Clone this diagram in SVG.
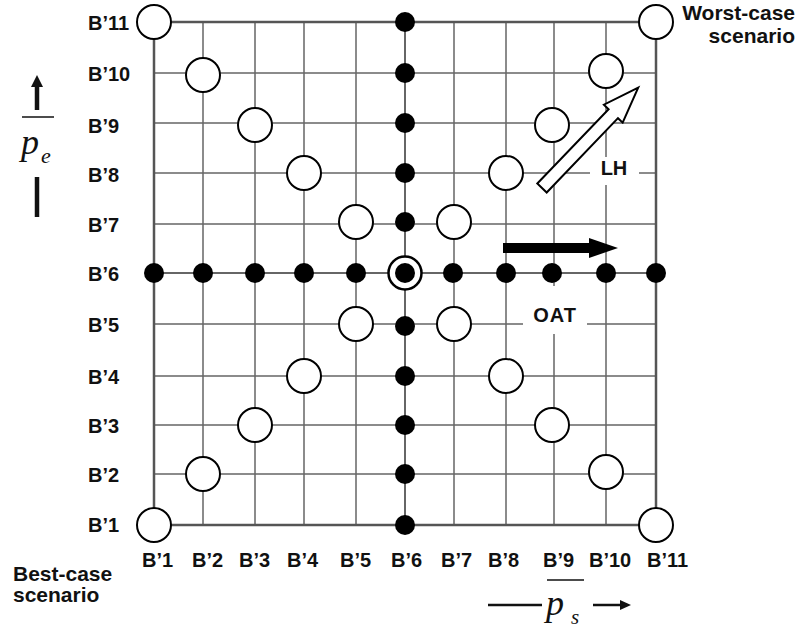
<svg xmlns="http://www.w3.org/2000/svg" width="799" height="630" viewBox="0 0 799 630">
<style>
.g{stroke:#666;stroke-width:1.5;fill:none}
.b{stroke:#555;stroke-width:2.5;fill:none}
.c{stroke:#666;stroke-width:2;fill:none}
.o{fill:#fff;stroke:#000;stroke-width:2}
.d{fill:#000}
.lb{font-family:"Liberation Sans",Arial,sans-serif;font-weight:bold;font-size:20px;fill:#111}
.sc{font-family:"Liberation Sans",Arial,sans-serif;font-weight:bold;font-size:21px;fill:#111}
.mi{font-family:"Liberation Serif","Times New Roman",serif;font-style:italic;fill:#111}
</style>
<rect width="799" height="630" fill="#fff"/>
<g id="grid">
<path class="g" d="M203 22V525M255 22V525M304 22V525M356 22V525M454 22V525M506 22V525M554 22V525M606 22V525M154 73H656M154 123H656M154 173H656M154 224H656M154 324H656M154 376H656M154 425H656M154 474H656"/>
<path class="c" d="M405 22V525M154 273H656"/>
<rect class="b" x="154" y="22" width="502" height="503"/>
</g>
<g id="labels">
<rect x="590" y="157" width="49" height="28" fill="#fff"/>
<rect x="523" y="286" width="64" height="48" fill="#fff"/>
<text class="lb" x="614" y="175" text-anchor="middle" font-size="18">LH</text>
<text class="lb" x="555" y="322" text-anchor="middle" font-size="18" letter-spacing="1">OAT</text>
<g id="row-labels">
<text class="lb" x="88" y="30">B’11</text>
<text class="lb" x="88" y="81">B’10</text>
<text class="lb" x="88" y="133">B’9</text>
<text class="lb" x="88" y="182">B’8</text>
<text class="lb" x="88" y="232">B’7</text>
<text class="lb" x="88" y="281">B’6</text>
<text class="lb" x="88" y="332">B’5</text>
<text class="lb" x="88" y="384">B’4</text>
<text class="lb" x="88" y="433">B’3</text>
<text class="lb" x="88" y="482">B’2</text>
<text class="lb" x="88" y="532">B’1</text>
</g>
<g id="col-labels">
<text class="lb" x="142" y="567">B’1</text>
<text class="lb" x="192" y="567">B’2</text>
<text class="lb" x="239" y="567">B’3</text>
<text class="lb" x="287" y="567">B’4</text>
<text class="lb" x="340" y="567">B’5</text>
<text class="lb" x="391" y="567">B’6</text>
<text class="lb" x="441" y="567">B’7</text>
<text class="lb" x="488" y="567">B’8</text>
<text class="lb" x="543" y="567">B’9</text>
<text class="lb" x="589" y="567">B’10</text>
<text class="lb" x="647" y="567">B’11</text>
</g>
<line x1="547" y1="580" x2="584" y2="580" stroke="#111" stroke-width="1.5"/>
<text class="sc" x="795" y="20" text-anchor="end">Worst-case</text>
<text class="sc" x="795" y="43" text-anchor="end">scenario</text>
<text class="sc" x="13" y="581">Best-case</text>
<text class="sc" x="13" y="602">scenario</text>
</g>
<g id="axis-pe">
<path d="M37 110V86" stroke="#111" stroke-width="4.5"/>
<polygon points="37,75 43,87 31,87" fill="#111"/>
<line x1="22" y1="117" x2="54" y2="117" stroke="#111" stroke-width="1.5"/>
<text class="mi" x="21" y="154" font-size="36">p</text>
<text class="mi" x="41" y="163" font-size="22">e</text>
<line x1="37" y1="177" x2="37" y2="217" stroke="#111" stroke-width="4.5"/>
</g>
<g id="axis-ps">
<line x1="488" y1="605" x2="542" y2="605" stroke="#111" stroke-width="2.5"/>
<text class="mi" x="546" y="615" font-size="36">p</text>
<text class="mi" x="571" y="624" font-size="21">s</text>
<line x1="593" y1="605" x2="621" y2="605" stroke="#111" stroke-width="2.5"/>
<polygon points="631,605 620,600 620,610" fill="#111"/>
</g>
<g id="n-1-1"><circle class="o" cx="154" cy="525" r="17"/></g>
<g id="n-1-11"><circle class="o" cx="154" cy="22" r="17"/></g>
<g id="n-2-2"><circle class="o" cx="203" cy="474" r="17"/></g>
<g id="n-2-10"><circle class="o" cx="203" cy="75" r="17"/></g>
<g id="n-3-3"><circle class="o" cx="255" cy="425" r="17"/></g>
<g id="n-3-9"><circle class="o" cx="255" cy="125" r="17"/></g>
<g id="n-4-4"><circle class="o" cx="304" cy="376" r="17"/></g>
<g id="n-4-8"><circle class="o" cx="304" cy="173" r="17"/></g>
<g id="n-5-5"><circle class="o" cx="356" cy="324" r="17"/></g>
<g id="n-5-7"><circle class="o" cx="356" cy="222" r="17"/></g>
<g id="n-7-7"><circle class="o" cx="454" cy="222" r="17"/></g>
<g id="n-7-5"><circle class="o" cx="454" cy="324" r="17"/></g>
<g id="n-8-8"><circle class="o" cx="506" cy="173" r="17"/></g>
<g id="n-8-4"><circle class="o" cx="506" cy="376" r="17"/></g>
<g id="n-9-9"><circle class="o" cx="552" cy="125" r="17"/></g>
<g id="n-9-3"><circle class="o" cx="552" cy="425" r="17"/></g>
<g id="n-10-10"><circle class="o" cx="606" cy="71" r="17"/></g>
<g id="n-10-2"><circle class="o" cx="606" cy="472" r="17"/></g>
<g id="n-11-11"><circle class="o" cx="656" cy="22" r="17"/></g>
<g id="n-11-1"><circle class="o" cx="656" cy="525" r="17"/></g>
<g id="col6-dots">
<g id="d-6-11"><circle class="d" cx="405" cy="22" r="10"/></g>
<g id="d-6-10"><circle class="d" cx="405" cy="73" r="10"/></g>
<g id="d-6-9"><circle class="d" cx="405" cy="123" r="10"/></g>
<g id="d-6-8"><circle class="d" cx="405" cy="173" r="10"/></g>
<g id="d-6-7"><circle class="d" cx="405" cy="222" r="10"/></g>
<g id="d-6-5"><circle class="d" cx="405" cy="326" r="10"/></g>
<g id="d-6-4"><circle class="d" cx="405" cy="376" r="10"/></g>
<g id="d-6-3"><circle class="d" cx="405" cy="425" r="10"/></g>
<g id="d-6-2"><circle class="d" cx="405" cy="474" r="10"/></g>
<g id="d-6-1"><circle class="d" cx="405" cy="525" r="10"/></g>
</g>
<g id="row6-dots">
<g id="d-1-6"><circle class="d" cx="154" cy="273" r="10"/></g>
<g id="d-2-6"><circle class="d" cx="203" cy="273" r="10"/></g>
<g id="d-3-6"><circle class="d" cx="255" cy="273" r="10"/></g>
<g id="d-4-6"><circle class="d" cx="304" cy="273" r="10"/></g>
<g id="d-5-6"><circle class="d" cx="356" cy="273" r="10"/></g>
<g id="d-7-6"><circle class="d" cx="453" cy="273" r="10"/></g>
<g id="d-8-6"><circle class="d" cx="506" cy="273" r="10"/></g>
<g id="d-9-6"><circle class="d" cx="552" cy="273" r="10"/></g>
<g id="d-10-6"><circle class="d" cx="606" cy="273" r="10"/></g>
<g id="d-11-6"><circle class="d" cx="656" cy="273" r="10"/></g>
</g>
<g id="n-center">
<circle cx="405" cy="273" r="16.5" fill="#fff" stroke="#000" stroke-width="2.5"/>
<circle class="d" cx="405" cy="273" r="10"/>
</g>
<g id="connectors">
<polygon id="oat-arrow" points="503,243 589,243 589,238 618,248 589,258 589,253 503,253" fill="#000"/>
<polygon id="lh-arrow" transform="translate(542,188) rotate(-46.2)" points="0,-6.5 103,-6.5 103,-13 139,0 103,13 103,6.5 0,6.5" fill="#fff" stroke="#000" stroke-width="2" stroke-linejoin="miter"/>
</g>
</svg>
